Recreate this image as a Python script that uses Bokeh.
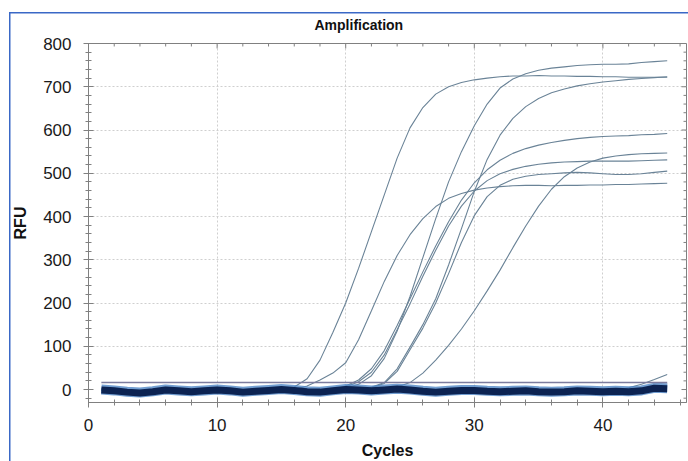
from bokeh.plotting import figure
from bokeh.models import FixedTicker, Range1d
from bokeh.embed import file_html
from bokeh.resources import INLINE

# ---------------- data ----------------
cycles = list(range(1, 46))

curve_a = [1, 0, -3, -5, -2, 1, 0, -2, -1, 1, 0, -3, -2, 0, 2,
           6, 25, 68, 132, 200, 280, 365, 450, 535, 605, 652, 683, 700, 710, 716,
           720, 723, 725, 725, 726, 725, 725, 724, 724, 723, 723, 722, 722, 722, 722]
curve_s = [0, -2, -4, -6, -3, 0, -1, -3, -2, 0, -1, -4, -3, -1, 1, 0,
           8, 22, 38, 62, 115, 182, 250, 310, 358, 395, 423, 442, 453, 461,
           466, 469, 471, 472, 472, 471, 472, 472, 473, 473, 474, 474, 475, 476, 477]
curve_b = [-2, -4, -7, -9, -6, -2, -4, -6, -4, -2, -4, -7, -5, -3, -1, -3, -6, -7, -4,
           3, 12, 32, 72, 135, 215, 305, 395, 480, 550, 610, 660, 697, 718, 730,
           738, 743, 746, 749, 751, 752, 752, 753, 756, 758, 760]
curve_d = [1, -1, -4, -6, -3, 1, -1, -3, -1, 1, -1, -4, -2, 0, 2, 0, -3, -4, -1,
           8, 22, 48, 90, 148, 210, 272, 332, 388, 438, 478, 508, 530, 546, 557,
           565, 571, 576, 580, 583, 585, 586, 587, 589, 590, 592]
curve_f = [-1, -3, -5, -7, -4, 0, -2, -4, -2, 0, -2, -5, -3, -1, 1, -1, -4, -5, -2,
           6, 18, 40, 80, 138, 198, 262, 322, 378, 424, 459, 483, 499, 509, 516,
           521, 524, 526, 527, 528, 528, 528, 528, 529, 530, 531]
curve_c = [0, -2, -5, -7, -4, 0, -2, -4, -2, 0, -2, -5, -3, -1, 1, -1, -4, -5, -2, 1, 0,
           5, 16, 48, 98, 150, 210, 288, 372, 458, 532, 588, 627, 654, 673, 686,
           695, 702, 707, 711, 714, 717, 719, 721, 723]
curve_g = [-2, -3, -6, -8, -5, -1, -3, -5, -3, -1, -3, -6, -4, -2, 0, -2, -5, -6, -3, 0, -1,
           4, 14, 42, 92, 142, 200, 268, 340, 402, 446, 472, 486, 493, 497, 499,
           501, 502, 501, 499, 497, 497, 499, 502, 505]
curve_l = [1, -1, -4, -6, -3, 1, -1, -3, -1, 1, -1, -4, -2, 0, 2, 0, -3, -4, -1, 2, 1, -1, 1,
           6, 16, 38, 68, 102, 140, 182, 228, 276, 328, 378, 424, 463, 492, 512,
           526, 535, 540, 543, 545, 546, 547]
curve_z = [-1, -2, -5, -7, -4, -1, -2, -4, -3, -1, -2, -5, -4, -2, 0, -1, -4, -5, -2, 0,
           -1, -2, 0, 1, -1, -4, -5, -3, -2, -2, -4, -5, -4, -3, -5, -8, -9, -7, -5, -4, -2,
           4, 12, 23, 35]

band_light = [0, -2, -5, -7, -4, 0, -2, -4, -2, 0, -2, -5, -3, -1, 1, -1, -4, -5, -2, 1,
              0, -2, 0, 2, 0, -3, -5, -3, -1, -1, -3, -4, -3, -2, -4, -5, -4, -2, -3, -4,
              -3, -4, -2, 4, 3]
band_navy = [-1, -3, -6, -8, -5, -1, -3, -5, -3, -1, -3, -6, -4, -2, 0, -2, -5, -6, -3, 0,
             -1, -3, -1, 1, -1, -4, -6, -4, -2, -2, -4, -5, -4, -3, -5, -6, -5, -3, -4, -5,
             -4, -5, -3, 3, 2]
threshold_x = [1, 45]
threshold_y = [16, 16]

x_major = [0, 10, 20, 30, 40]
x_minor = [2, 4, 6, 8, 12, 14, 16, 18, 22, 24, 26, 28, 32, 34, 36, 38, 42, 44, 46]
y_major = [0, 100, 200, 300, 400, 500, 600, 700, 800]
y_minor = [-20, 20, 40, 60, 80, 120, 140, 160, 180, 220, 240, 260, 280, 320, 340, 360, 380,
           420, 440, 460, 480, 520, 540, 560, 580, 620, 640, 660, 680, 720, 740, 760, 780]

# ---------------- figure ----------------
FONT = "Liberation Sans"
AX = "#808080"
BLUE = "#3a68c6"
X0, X1 = 0, 46.5
Y0, Y1 = -30, 800

p = figure(width=688, height=461, output_backend="svg", toolbar_location=None,
           x_range=Range1d(X0, X1), y_range=Range1d(Y0, Y1),
           min_border_left=88, min_border_top=43, min_border_bottom=55, min_border_right=2)
p.outline_line_color = AX
p.outline_line_width = 1
p.background_fill_color = "white"
p.border_fill_color = None
# thin blue frame of the original screenshot, drawn behind the transparent border area
p.styles = {
    "background": (f"linear-gradient({BLUE}, {BLUE}) 9px 12px / 1.5px 100% no-repeat, "
                   f"linear-gradient({BLUE}, {BLUE}) 9px 12px / 100% 1.5px no-repeat, white"),
}

p.title.text = "Amplification"
p.title.text_font = FONT
p.title.text_font_size = "14px"
p.title.text_font_style = "bold"
p.title.text_color = "#111111"
p.title.align = "left"
p.title.offset = 226
p.title.standoff = 21

xt = FixedTicker(ticks=x_major, minor_ticks=x_minor)
yt = FixedTicker(ticks=y_major, minor_ticks=y_minor)

def style_axis(ax):
    ax.axis_line_color = AX
    ax.major_tick_line_color = AX
    ax.minor_tick_line_color = AX
    ax.major_tick_in = 5
    ax.major_tick_out = 5
    ax.minor_tick_in = 3
    ax.minor_tick_out = 3
    ax.major_label_text_font = FONT
    ax.major_label_text_color = "#1a1a1a"
    ax.major_label_text_font_size = "17px"
    ax.axis_label_text_font = FONT
    ax.axis_label_text_font_style = "bold"
    ax.axis_label_text_color = "#111111"
    ax.axis_label_text_font_size = "16px"

xa = p.xaxis[0]
xa.ticker = xt
style_axis(xa)
xa.axis_label = "Cycles"
xa.major_label_standoff = 11
xa.axis_label_standoff = 8

ya = p.yaxis[0]
ya.ticker = yt
style_axis(ya)
ya.axis_label = "RFU"
ya.major_label_standoff = 12
ya.axis_label_standoff = 11

# tick marks on the top and right edges of the frame (frame outline is the line)
px_per_x = (686 - 88) / (X1 - X0)
px_per_y = (405 - 43) / (Y1 - Y0)
p.segment(x0=x_major, y0=[Y1] * len(x_major), x1=x_major,
          y1=[Y1 - 5 / px_per_y] * len(x_major), line_color=AX, line_width=1)
p.segment(x0=x_minor, y0=[Y1] * len(x_minor), x1=x_minor,
          y1=[Y1 - 3 / px_per_y] * len(x_minor), line_color=AX, line_width=1)
p.segment(x0=[X1] * len(y_major), y0=y_major, x1=[X1 - 5 / px_per_x] * len(y_major),
          y1=y_major, line_color=AX, line_width=1)
p.segment(x0=[X1] * len(y_minor), y0=y_minor, x1=[X1 - 3 / px_per_x] * len(y_minor),
          y1=y_minor, line_color=AX, line_width=1)

p.xgrid.ticker = FixedTicker(ticks=[10, 20, 30, 40])
p.ygrid.ticker = FixedTicker(ticks=[100, 200, 300, 400, 500, 600, 700])
for g in (p.xgrid[0], p.ygrid[0]):
    g.grid_line_color = "#cfcfcf"
    g.grid_line_dash = "2 2"
    g.grid_line_width = 1

CURVE = "#6a8397"
for ys in (curve_a, curve_s, curve_b, curve_d, curve_f, curve_c, curve_g, curve_l, curve_z):
    p.line(cycles, ys, line_color=CURVE, line_width=1.1)

p.line(cycles, band_light, line_color="#4f86c6", line_width=10, line_alpha=0.8)
p.line(cycles, band_navy, line_color="#0c2352", line_width=7)
p.line(threshold_x, threshold_y, line_color="#7c7c9e", line_width=1.5)

open("out.html", "w").write(file_html(p, INLINE))
